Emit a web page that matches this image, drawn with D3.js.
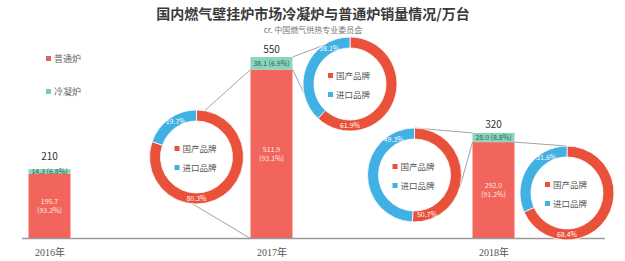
<!DOCTYPE html>
<html>
<head>
<meta charset="utf-8">
<script src="https://cdn.jsdelivr.net/npm/d3@7.9.0/dist/d3.min.js"></script>
<style>
  body { margin: 0; background: #fff; }
  svg { display: block; font-family: "Noto Sans CJK SC", "Noto Sans", sans-serif; }
</style>
</head>
<body>
<svg width="625" height="261"></svg>
<script>
// data
const years = ['2016年', '2017年', '2018年'];
const normal = [195.7, 511.9, 292.0];      // 普通炉
const condensing = [14.3, 38.1, 28.0];     // 冷凝炉
const normalPct = [93.2, 93.1, 91.2];
const condPct = [6.8, 6.9, 8.8];
const brands = ['国产品牌', '进口品牌'];
const normal2017Brands = [80.3, 19.7];
const cond2017Brands = [61.9, 38.1];
const normal2018Brands = [50.7, 49.3];
const cond2018Brands = [68.4, 31.6];

const totals = normal.map((v, i) => Math.round((v + condensing[i]) * 10) / 10);

const svg = d3.select('svg');
const barRed = '#f1655c', barTeal = '#8ad5bd';
const ringColors = d3.scaleOrdinal().domain(brands).range(['#e9513a', '#41b0e2']);

const x = d3.scalePoint().domain(years).range([49.5, 493.5]);
const y = d3.scaleLinear().domain([0, 550]).range([238.5, 57]);
const barW = 42;

// title
svg.append('text').attr('x', 313).attr('y', 19).attr('text-anchor', 'middle')
  .attr('font-size', 14).attr('font-weight', 'bold').attr('fill', '#3a3a3a')
  .text('国内燃气壁挂炉市场冷凝炉与普通炉销量情况/万台');
svg.append('text').attr('x', 313).attr('y', 33).attr('text-anchor', 'middle')
  .attr('font-size', 8).attr('fill', '#777')
  .text('cr. 中国燃气供热专业委员会');

// legend
const legend = [['普通炉', '#d9685f'], ['冷凝炉', '#7ec9b3']];
legend.forEach(([name, c], i) => {
  const g = svg.append('g').attr('transform', `translate(46,${56 + i * 33})`);
  g.append('rect').attr('width', 5).attr('height', 5).attr('fill', c);
  g.append('text').attr('x', 8).attr('y', 5.5).attr('font-size', 9)
    .attr('fill', '#666').text(name);
});

// bars
const bars = svg.append('g');
years.forEach((yr, i) => {
  const x0 = x(yr) - barW / 2;
  bars.append('rect').attr('x', x0).attr('y', y(normal[i]))
    .attr('width', barW).attr('height', y(0) - y(normal[i])).attr('fill', barRed);
  bars.append('rect').attr('x', x0).attr('y', y(totals[i]))
    .attr('width', barW).attr('height', y(normal[i]) - y(totals[i])).attr('fill', barTeal);

  const mid = (y(normal[i]) + y(0)) / 2;
  bars.append('text').attr('x', x(yr)).attr('y', mid - 2).attr('text-anchor', 'middle')
    .attr('font-size', 7).attr('fill', '#ffe6e2').text(normal[i].toFixed(1));
  bars.append('text').attr('x', x(yr)).attr('y', mid + 7).attr('text-anchor', 'middle')
    .attr('font-size', 7).attr('fill', '#ffe6e2').text(`(${normalPct[i]}%)`);

  const tm = (y(normal[i]) + y(totals[i])) / 2;
  bars.append('text').attr('x', x(yr)).attr('y', tm + 2.5).attr('text-anchor', 'middle')
    .attr('font-size', 7).attr('fill', '#2f5f50')
    .text(`${condensing[i].toFixed(1)} (${condPct[i]}%)`);

  bars.append('text').attr('x', x(yr))
    .attr('y', Math.min(y(totals[i]), y(normal[i]) - 10) - 4)
    .attr('text-anchor', 'middle').attr('font-size', 10).attr('fill', '#333')
    .text(totals[i]);
});

// axis
svg.append('line').attr('x1', 22).attr('x2', 605).attr('y1', y(0)).attr('y2', y(0))
  .attr('stroke', '#9a9a9a').attr('stroke-width', 1.5);
const axis = svg.append('g').attr('transform', `translate(0,${y(0)})`)
  .call(d3.axisBottom(x).tickSize(0).tickPadding(10));
axis.select('.domain').remove();
axis.selectAll('text').attr('font-size', 10).attr('fill', '#555')
  .attr('font-family', '"Liberation Serif", "Noto Sans CJK SC", serif');

// donuts
const R = 47, r = 36;
const arc = d3.arc().innerRadius(r).outerRadius(R);
const pie = d3.pie().sort(null).value(d => d.v);
const deg = a => a * Math.PI / 180;

const donuts = [
  { vals: normal2017Brands, cx: 196.5, cy: 157,
    links: [[10, 1, -1, normal[1]], [185, 1, -1, 0]] },
  { vals: cond2017Brands, cx: 350, cy: 84,
    links: [[325, 1, 1, totals[1]], [228, 1, 1, normal[1]]] },
  { vals: normal2018Brands, cx: 414.5, cy: 175,
    links: [[0, 2, -1, totals[2]], [107, 2, -1, normal[2]]] },
  { vals: cond2018Brands, cx: 567, cy: 193,
    links: [[0, 2, 1, normal[2]]] }
];

donuts.forEach(dn => {
  // connector lines to the bar
  dn.links.forEach(([a, yi, side, v]) => {
    const p = d3.arc().innerRadius(R).outerRadius(R).centroid({ startAngle: deg(a), endAngle: deg(a) });
    svg.append('line')
      .attr('x1', dn.cx + p[0]).attr('y1', dn.cy + p[1])
      .attr('x2', x(years[yi]) + side * barW / 2).attr('y2', y(v))
      .attr('stroke', '#8a8a8a').attr('stroke-width', 0.8);
  });

  const g = svg.append('g').attr('transform', `translate(${dn.cx},${dn.cy})`);
  const arcs = pie(dn.vals.map((v, i) => ({ v, name: brands[i] })));
  g.selectAll('path').data(arcs).join('path')
    .attr('d', arc).attr('fill', d => ringColors(d.data.name))
    .attr('stroke', '#fff').attr('stroke-width', 0.8);

  const mid = d3.arc().innerRadius((R + r) / 2).outerRadius((R + r) / 2);
  g.selectAll('text.pct').data(arcs).join('text').attr('class', 'pct')
    .attr('transform', d => {
      const a = d.index === 0 ? Math.min(d.endAngle - deg(20), deg(180)) : deg(330);
      const c = mid.centroid({ startAngle: a, endAngle: a });
      return `translate(${c[0]},${c[1] + 2.5})`;
    })
    .attr('text-anchor', 'middle').attr('font-size', 7).attr('fill', '#fff')
    .text(d => `${d.data.v}%`);

  brands.forEach((b, i) => {
    g.append('rect').attr('x', -22).attr('y', -11 + i * 19).attr('width', 5).attr('height', 5)
      .attr('fill', ringColors(b));
    g.append('text').attr('x', -14).attr('y', -5.5 + i * 19 + 0.5).attr('font-size', 8.5)
      .attr('fill', '#555').text(b);
  });
});
</script>
</body>
</html>
